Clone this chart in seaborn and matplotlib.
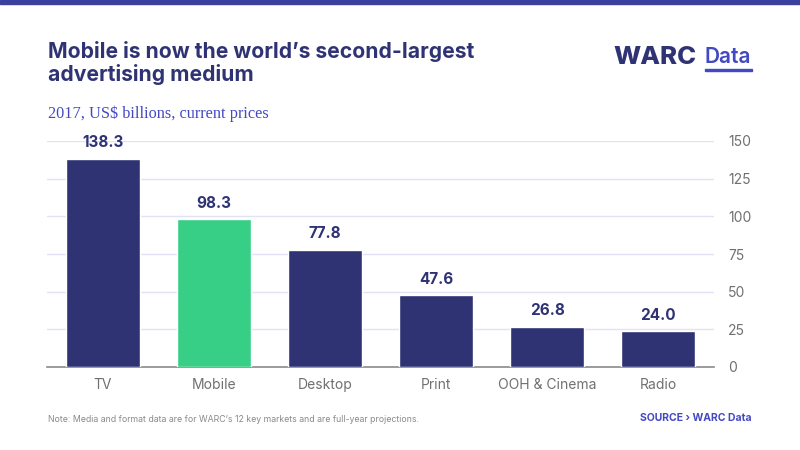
import matplotlib
matplotlib.use("Agg")
import matplotlib.pyplot as plt
import seaborn as sns
import pandas as pd

categories = ["TV", "Mobile", "Desktop", "Print", "OOH & Cinema", "Radio"]
values = [138.3, 98.3, 77.8, 47.6, 26.8, 24.0]
value_labels = ["138.3", "98.3", "77.8", "47.6", "26.8", "24.0"]
y_ticks = [0, 25, 50, 75, 100, 125, 150]

NAVY = "#2f3374"
GREEN = "#37cf85"
BLUE = "#4349c2"
GRAY = "#707070"

sns.set_theme(style="white")
plt.rcParams["font.family"] = ["Inter", "DejaVu Sans"]

df = pd.DataFrame({"cat": categories, "val": values})
palette = [GREEN if c == "Mobile" else NAVY for c in categories]

fig = plt.figure(figsize=(8, 4.5), dpi=100)
ax = fig.add_axes([47 / 800, 1 - 367 / 450, (714 - 47) / 800, (367 - 141) / 450])

sns.barplot(data=df, x="cat", y="val", hue="cat", palette=palette, legend=False,
            width=0.667, ax=ax, saturation=1, zorder=3)

ax.set_ylim(0, 150)
ax.set_xlim(-0.5, len(categories) - 0.5)
ax.set_yticks(y_ticks)
ax.yaxis.tick_right()
ax.grid(axis="y", color="#e2e2f6", linewidth=1, zorder=0)
ax.set_axisbelow(True)
for s in ["top", "left", "right"]:
    ax.spines[s].set_visible(False)
ax.spines["bottom"].set_color("#8a8a8a")
ax.spines["bottom"].set_linewidth(1.2)
ax.tick_params(axis="y", length=0, pad=10, labelsize=10, labelcolor=GRAY)
ax.tick_params(axis="x", length=0, pad=8, labelsize=10, labelcolor=GRAY)
ax.set_xlabel("")
ax.set_ylabel("")

for i, (v, lab) in enumerate(zip(values, value_labels)):
    ax.annotate(lab, (i, v), xytext=(0, 6), textcoords="offset points",
                ha="center", va="bottom", fontsize=11, fontweight="bold",
                color=NAVY, clip_on=False)

# top bar
fig.patches.append(plt.Rectangle((0, 1 - 4 / 450), 1, 4 / 450, transform=fig.transFigure,
                                 color="#3b3f9e", zorder=10))

fig.text(48 / 800, 1 - 41 / 450, "Mobile is now the world\u2019s second-largest\nadvertising medium",
         ha="left", va="top", fontsize=15.2, fontweight="bold", color=NAVY, linespacing=1.12)
fig.text(48 / 800, 1 - 114 / 450, "2017, US$ billions, current prices", ha="left", va="center",
         fontsize=11.7, color=BLUE, family=["Liberation Serif"])

fig.text(697 / 800, 1 - 57 / 450, "WARC", ha="right", va="center", fontsize=18.5,
         fontweight="heavy", color=NAVY)
fig.text(705 / 800, 1 - 57 / 450, "Data", ha="left", va="center", fontsize=15,
         fontweight="semibold", color=BLUE)
fig.patches.append(plt.Rectangle((705 / 800, 1 - 71 / 450), 47 / 800, 2 / 450,
                                 transform=fig.transFigure, color=BLUE))

fig.text(48 / 800, 1 - 420 / 450,
         "Note: Media and format data are for WARC\u2019s 12 key markets and are full-year projections.",
         ha="left", va="center", fontsize=6.3, color="#8a8a8a")
fig.text(752 / 800, 1 - 418 / 450, "SOURCE \u203a WARC Data", ha="right", va="center",
         fontsize=7.5, fontweight="bold", color=BLUE)

fig.savefig("out.png", dpi=100)
